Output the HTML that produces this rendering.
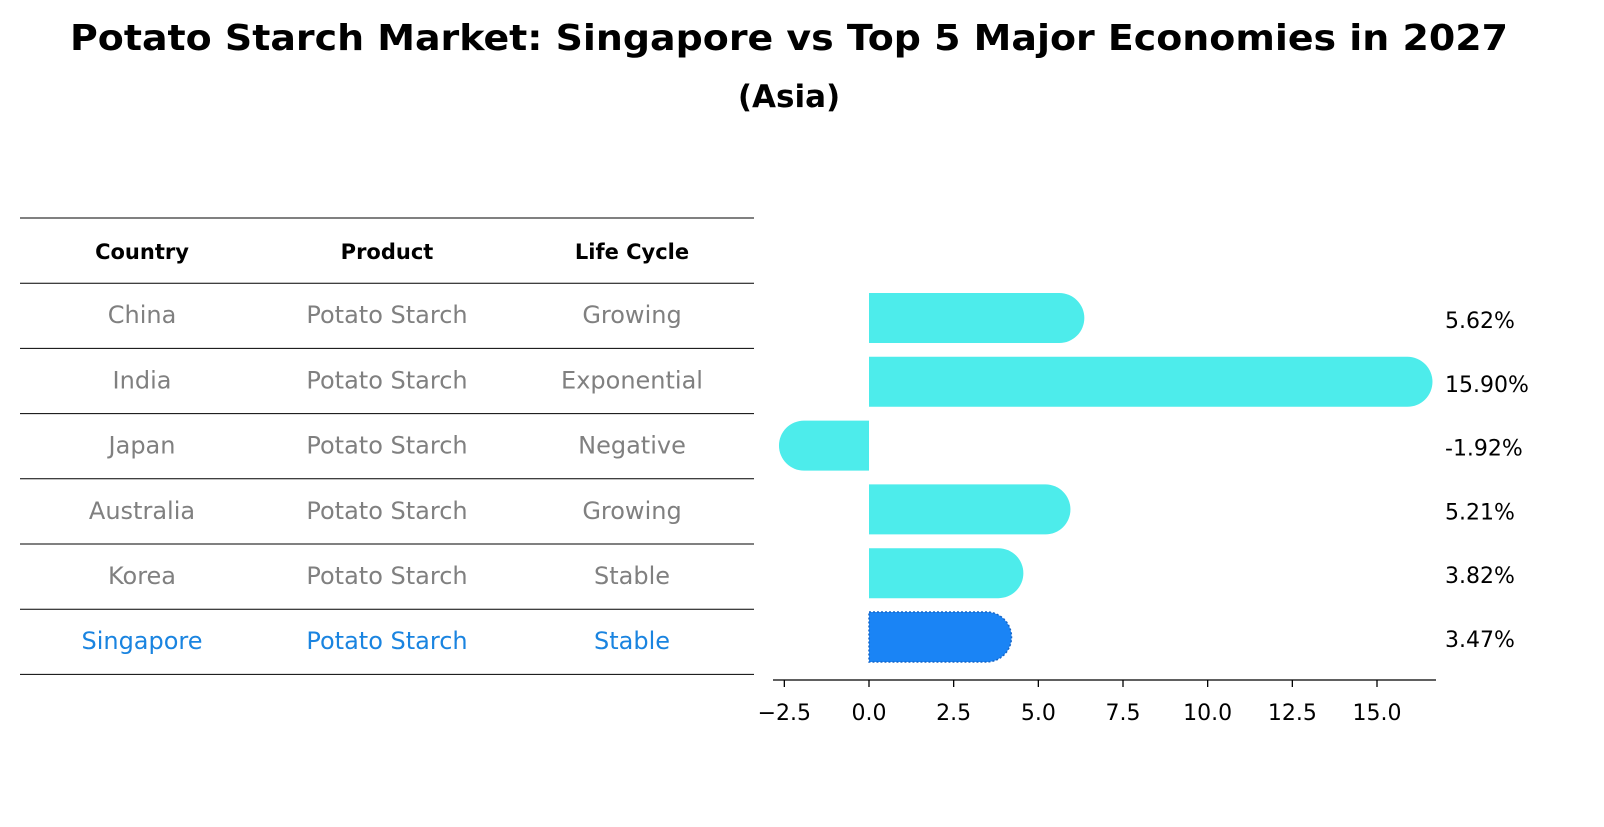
<!DOCTYPE html>
<html><head><meta charset="utf-8"><style>
body{margin:0;background:#fff;font-family:"DejaVu Sans","Liberation Sans",sans-serif;}
</style></head><body>
<svg width="1604" height="823" xmlns="http://www.w3.org/2000/svg" font-family="DejaVu Sans, Liberation Sans, sans-serif">
<text x="789" y="50" text-anchor="middle" font-size="36" font-weight="bold" textLength="1438" lengthAdjust="spacingAndGlyphs">Potato Starch Market: Singapore vs Top 5 Major Economies in 2027</text>
<text x="789" y="107" text-anchor="middle" font-size="31" font-weight="bold">(Asia)</text>
<g id="table"></g>
<g id="bars"></g>
</svg>
<script>
const countries=["China","India","Japan","Australia","Korea","Singapore"];
const products=["Potato Starch","Potato Starch","Potato Starch","Potato Starch","Potato Starch","Potato Starch"];
const lifeCycles=["Growing","Exponential","Negative","Growing","Stable","Stable"];
const growth=[5.62,15.90,-1.92,5.21,3.82,3.47];
const tickValues=[-2.5,0,2.5,5,7.5,10,12.5,15];
const tickLabels=["\u22122.5","0.0","2.5","5.0","7.5","10.0","12.5","15.0"];
const NS="http://www.w3.org/2000/svg";
function mk(tag,attrs,parent,text){const e=document.createElementNS(NS,tag);for(const k in attrs)e.setAttribute(k,attrs[k]);if(text!==undefined)e.textContent=text;parent.appendChild(e);return e;}
const tbl=document.getElementById('table');
const rowY=i=>218+65.2*(i+1);
const colX=[142,387,632];
for(let i=0;i<=countries.length+1;i++){
  const y=218+65.2*i;
  const l=mk('line',{x1:20,x2:754,y1:y,y2:y,stroke:'#000','stroke-width':1},tbl);
  
  
}
["Country","Product","Life Cycle"].forEach((h,j)=>{
  const t=mk('text',{x:colX[j],y:259,'text-anchor':'middle','font-size':21,'font-weight':'bold'},tbl,h);
  
  
});
countries.forEach((c,i)=>{
  const col=i===countries.length-1?'#1a84e0':'#808080';
  [c,products[i],lifeCycles[i]].forEach((v,j)=>{
    const t=mk('text',{x:colX[j],y:rowY(i)+40,'text-anchor':'middle','font-size':24,fill:col},tbl,v);
    
    
  });
});
const g=document.getElementById('bars');
const x0=869,scale=(1377-869)/15;
const xs=v=>x0+v*scale;
const yc=i=>318+63.8*i;
const h=50,r=25;
growth.forEach((v,i)=>{
  const last=i===growth.length-1;
  const top=yc(i)-h/2,bot=yc(i)+h/2;
  const xe=xs(v);
  let d;
  if(v>=0) d=`M${x0},${top} H${xe} A${r},${r} 0 0 1 ${xe},${bot} H${x0} Z`;
  else d=`M${x0},${top} H${xe} A${r},${r} 0 0 0 ${xe},${bot} H${x0} Z`;
  const p=mk('path',{d:d,fill:last?'#1a84f5':'#4deceb'},g);
  if(last){p.setAttribute('stroke','#1766c8');p.setAttribute('stroke-dasharray','2 2');p.setAttribute('stroke-width','1.5');}
  
  
  const t=mk('text',{x:1445,y:yc(i)+10,'font-size':22},g,growth[i].toFixed(2)+'%');
  
  
});
const ax=mk('line',{x1:773,x2:1436,y1:680,y2:680,stroke:'#000','stroke-width':1.3},g);


tickValues.forEach((v,i)=>{
  const tk=mk('line',{x1:xs(v),x2:xs(v),y1:680,y2:687,stroke:'#000','stroke-width':1.3},g);
  
  
  const t=mk('text',{x:xs(v),y:720,'text-anchor':'middle','font-size':22},g,tickLabels[i]);
  
  
});
</script>
</body></html>
